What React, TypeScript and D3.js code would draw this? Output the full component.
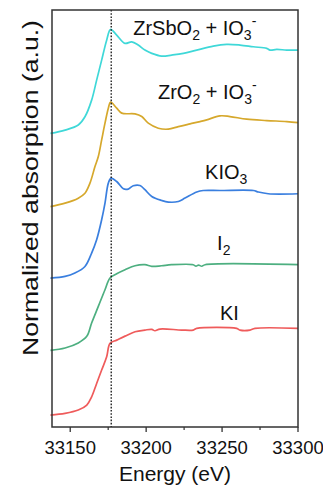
import React from "react";
import * as d3 from "d3";

// Energy grid points (eV) and normalized absorption for each spectrum
const kiEnergy = [33137, 33146.6, 33155.3, 33160.9, 33164.1, 33167.4, 33170.7, 33174.0, 33176.2, 33180.6, 33186.1, 33192.7, 33199.2, 33203.7, 33205.8, 33209.1, 33223.4, 33231.0, 33233.3, 33259.6, 33261.8, 33268.4, 33271.7, 33300];
const kiMu = [0, 0.02, 0.059, 0.118, 0.215, 0.372, 0.529, 0.685, 0.843, 0.881, 0.928, 0.979, 0.999, 1.007, 0.991, 1.011, 0.999, 0.999, 1.019, 1.019, 0.999, 0.999, 1.019, 1.019];

const i2Energy = [33137, 33146.6, 33155.3, 33160.9, 33164.1, 33168.5, 33172.9, 33176.2, 33180.6, 33186.1, 33192.7, 33199.2, 33203.7, 33210.2, 33216.8, 33231.0, 33232.8, 33234.5, 33236.6, 33238.8, 33300];
const i2Mu = [0, 0.028, 0.087, 0.165, 0.322, 0.517, 0.713, 0.851, 0.901, 0.948, 0.995, 1.007, 0.987, 0.995, 1.007, 1.007, 0.989, 1.003, 0.989, 1.007, 1.007];

const kio3Energy = [33137, 33146.6, 33153.1, 33159.7, 33164.1, 33167.4, 33170.7, 33172.9, 33175.1, 33176.9, 33180.6, 33185.0, 33188.2, 33191.5, 33195.9, 33199.2, 33203.7, 33210.2, 33214.6, 33221.2, 33225.6, 33233.3, 33237.6, 33248.6, 33270.6, 33273.9, 33280.4, 33300];
const kio3Mu = [0, 0.019, 0.059, 0.136, 0.294, 0.45, 0.685, 0.881, 1.116, 1.175, 1.135, 1.049, 1.046, 1.085, 1.088, 1.038, 0.959, 0.912, 0.893, 0.9, 0.94, 1.011, 1.029, 1.029, 1.029, 1.011, 0.991, 0.991];

const zro2Energy = [33137, 33146.6, 33155.3, 33159.7, 33163.0, 33166.3, 33168.5, 33170.7, 33172.9, 33175.1, 33176.6, 33180.6, 33183.9, 33192.7, 33197.1, 33201.4, 33208.0, 33214.6, 33221.2, 33228.9, 33235.5, 33239.9, 33248.6, 33255.2, 33266.2, 33279.4, 33292.6, 33300];
const zro2Mu = [0, 0.04, 0.099, 0.157, 0.275, 0.47, 0.588, 0.784, 0.98, 1.156, 1.227, 1.156, 1.098, 1.089, 1.058, 0.98, 0.921, 0.91, 0.94, 0.972, 0.999, 1.019, 1.066, 1.058, 1.027, 1.011, 0.999, 0.987];

const zrsbo2Energy = [33137, 33146.6, 33155.3, 33159.7, 33164.1, 33167.4, 33170.7, 33174.0, 33176.6, 33180.6, 33186.1, 33190.5, 33194.8, 33199.2, 33203.7, 33210.2, 33216.8, 33224.5, 33233.3, 33244.2, 33253.0, 33261.8, 33270.6, 33279.4, 33281.6, 33286.0, 33292.6, 33300];
const zrsbo2Mu = [0, 0.039, 0.098, 0.195, 0.391, 0.626, 0.861, 1.096, 1.222, 1.155, 1.058, 1.076, 1.038, 0.979, 0.94, 0.908, 0.92, 0.94, 0.979, 1.026, 1.046, 1.038, 1.018, 0.999, 0.979, 0.987, 0.979, 0.979];

// Vertical offsets used to stack the spectra
const offsets = [0.14, 0.9, 1.75, 2.59, 3.45];

// Absorption edge marker (eV)
const edgeEnergy = 33177;

const xTicks = [33150, 33200, 33250, 33300];
const xMinorTicks = [33175, 33225, 33275];

const W = 323;
const H = 489;
const left = 52;
const right = 298;
const top = 10;
const bottom = 427;

const FONT = "'Liberation Sans', Arial, Helvetica, sans-serif";

type Series = {
  key: string;
  energy: number[];
  mu: number[];
  offset: number;
  color: string;
  labelE: number;
  labelY: number;
  label: React.ReactNode;
};

const sub = (t: string) => (
  <>
    <tspan dy={5} fontSize={14}>{t}</tspan>
    <tspan dy={-5}>{"\u200A"}</tspan>
  </>
);

const adsorbed = (support: string) => (
  <>
    {support}
    <tspan dy={5} fontSize={14}>2</tspan>
    <tspan dy={-5}> + IO</tspan>
    <tspan dy={5} fontSize={14}>3</tspan>
    <tspan dy={-14} fontSize={14}>-</tspan>
  </>
);

export default function App() {
  const x = d3.scaleLinear().domain([33138, 33300]).range([left, right]);
  const y = d3.scaleLinear().domain([0, 4.9]).range([bottom, top]);

  const series: Series[] = [
    {
      key: "KI", energy: kiEnergy, mu: kiMu, offset: offsets[0], color: "#ef5b5b",
      labelE: 33248.6, labelY: 1.12, label: <>KI</>,
    },
    {
      key: "I2", energy: i2Energy, mu: i2Mu, offset: offsets[1], color: "#4daf80",
      labelE: 33246.7, labelY: 1.18, label: <>I{sub("2")}</>,
    },
    {
      key: "KIO3", energy: kio3Energy, mu: kio3Mu, offset: offsets[2], color: "#3a7fdf",
      labelE: 33238.8, labelY: 1.17, label: <>KIO{sub("3")}</>,
    },
    {
      key: "ZrO2", energy: zro2Energy, mu: zro2Mu, offset: offsets[3], color: "#d6a82c",
      labelE: 33207.8, labelY: 1.27, label: adsorbed("ZrO"),
    },
    {
      key: "ZrSbO2", energy: zrsbo2Energy, mu: zrsbo2Mu, offset: offsets[4], color: "#3fd8d8",
      labelE: 33191.5, labelY: 1.16, label: adsorbed("ZrSbO"),
    },
  ];

  const line = (s: Series) =>
    d3
      .line<number>()
      .x((_, i) => x(s.energy[i]))
      .y((v) => y(v + s.offset))
      .curve(d3.curveCatmullRom.alpha(0.5))(s.mu) || "";

  return (
    <svg
      width={W}
      height={H}
      style={{ position: "absolute", left: 0, top: 0, background: "#fff" }}
      fontFamily={FONT}
    >
      {series.map((s) => (
        <path key={s.key} d={line(s)} fill="none" stroke={s.color} strokeWidth={1.7} strokeLinejoin="round" />
      ))}

      <line
        x1={x(edgeEnergy)}
        x2={x(edgeEnergy)}
        y1={top}
        y2={bottom}
        stroke="#111"
        strokeWidth={1.3}
        strokeDasharray="1.6,1.6"
      />

      <rect x={left} y={top} width={right - left} height={bottom - top} fill="none" stroke="#333" strokeWidth={1.5} />

      {xTicks.map((t) => (
        <g key={t}>
          <line x1={x(t)} x2={x(t)} y1={bottom} y2={bottom + 5} stroke="#333" strokeWidth={1.3} />
          <text x={x(t)} y={454} textAnchor="middle" fontSize={18.5} fill="#111">
            {t}
          </text>
        </g>
      ))}
      {xMinorTicks.map((t) => (
        <line key={t} x1={x(t)} x2={x(t)} y1={bottom} y2={bottom + 3} stroke="#333" strokeWidth={1.2} />
      ))}

      {series.map((s) => (
        <text key={s.key + "-label"} x={x(s.labelE)} y={y(s.offset + s.labelY)} fontSize={20} fill="#111">
          {s.label}
        </text>
      ))}

      <text x={(left + right) / 2} y={481} textAnchor="middle" fontSize={21} fill="#111">
        Energy (eV)
      </text>
      <text
        transform="translate(38, 188) rotate(-90)"
        textAnchor="middle"
        fontSize={21.5}
        textLength={336}
        lengthAdjust="spacingAndGlyphs"
        fill="#111"
      >
        Normalized absorption (a.u.)
      </text>
    </svg>
  );
}
